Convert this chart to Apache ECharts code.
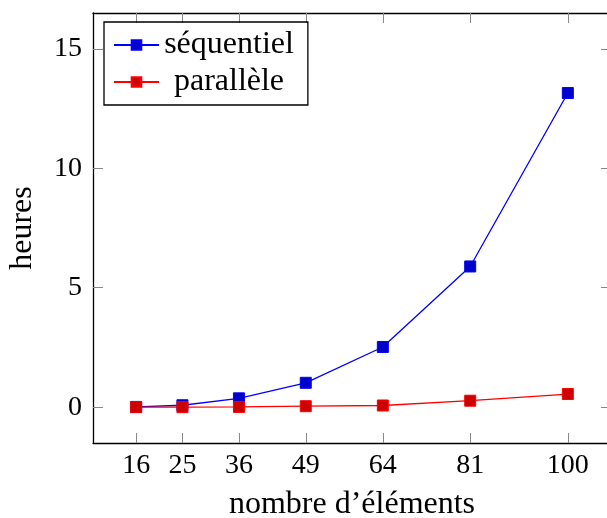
<!DOCTYPE html>
<html>
<head>
<meta charset="utf-8">
<script src="https://cdn.jsdelivr.net/npm/echarts@6/dist/echarts.min.js"></script>
<style>
  html, body { margin: 0; padding: 0; background: #fff; }
  #chart { width: 607px; height: 518px; }
</style>
</head>
<body>
<div id="chart"></div>
<script>
// données
var elements = [16, 25, 36, 49, 64, 81, 100];
var sequentiel = [0.01, 0.08, 0.37, 1.02, 2.52, 5.89, 13.15];
var parallele = [0.0, 0.0, 0.01, 0.04, 0.07, 0.27, 0.55];
var yTicks = [0, 5, 10, 15];

var police = 'Liberation Serif';

function paires(xs, ys) {
    return xs.map(function(x, i) { return [x, ys[i]]; });
}

var chart = echarts.init(document.getElementById('chart'));

var axeCommun = {
    axisLine: { show: true, onZero: false, lineStyle: { color: '#000', width: 1.3 } },
    axisTick: { show: true, inside: true, length: 10, lineStyle: { color: '#888', width: 1 } },
    splitLine: { show: false }
};

var option = {
    animation: false,
    grid: { left: 93, right: -4, top: 13, bottom: 75, outerBoundsMode: 'none', containLabel: false },
    legend: {
        left: 104,
        top: 22,
        orient: 'vertical',
        itemWidth: 45,
        itemHeight: 12,
        itemGap: 5,
        padding: [7, 14, 7, 9],
        borderColor: '#000',
        borderWidth: 1.3,
        formatter: '{c|{name}}',
        textStyle: {
            fontFamily: police, fontSize: 32, color: '#000',
            rich: { c: { fontFamily: police, fontSize: 32, color: '#000', width: 130, align: 'center' } }
        },
        data: ['séquentiel', 'parallèle']
    },
    xAxis: [
        Object.assign({}, axeCommun, {
            type: 'value',
            min: 7.6,
            max: 108.4,
            name: 'nombre d\u2019éléments',
            nameLocation: 'middle',
            nameGap: 46,
            nameTextStyle: { fontFamily: police, fontSize: 32, color: '#000' },
            axisTick: Object.assign({}, axeCommun.axisTick, { customValues: elements }),
            axisLabel: { customValues: elements, margin: 9, fontFamily: police, fontSize: 28, color: '#000' }
        }),
        Object.assign({}, axeCommun, {
            type: 'value',
            position: 'top',
            min: 7.6,
            max: 108.4,
            axisTick: Object.assign({}, axeCommun.axisTick, { customValues: elements }),
            axisLabel: { show: false }
        })
    ],
    yAxis: [
        Object.assign({}, axeCommun, {
            type: 'value',
            min: -1.5,
            max: 16.5,
            name: 'heures',
            nameLocation: 'middle',
            nameGap: 54,
            nameTextStyle: { fontFamily: police, fontSize: 32, color: '#000' },
            axisTick: Object.assign({}, axeCommun.axisTick, { customValues: yTicks }),
            axisLabel: { customValues: yTicks, margin: 11, fontFamily: police, fontSize: 28, color: '#000' }
        }),
        Object.assign({}, axeCommun, {
            type: 'value',
            position: 'right',
            min: -1.5,
            max: 16.5,
            axisLine: { show: false },
            axisTick: Object.assign({}, axeCommun.axisTick, { customValues: yTicks }),
            axisLabel: { show: false }
        })
    ],
    series: [
        {
            name: 'séquentiel',
            type: 'line',
            data: paires(elements, sequentiel),
            symbol: 'rect',
            symbolSize: 11,
            lineStyle: { color: '#0000ff', width: 1.3 },
            itemStyle: { color: '#0000cc', borderColor: '#0000ff', borderWidth: 1 }
        },
        {
            name: 'parallèle',
            type: 'line',
            data: paires(elements, parallele),
            symbol: 'rect',
            symbolSize: 11,
            lineStyle: { color: '#ff0000', width: 1.3 },
            itemStyle: { color: '#cc0000', borderColor: '#ff0000', borderWidth: 1 }
        }
    ]
};

chart.setOption(option);
</script>
</body>
</html>
